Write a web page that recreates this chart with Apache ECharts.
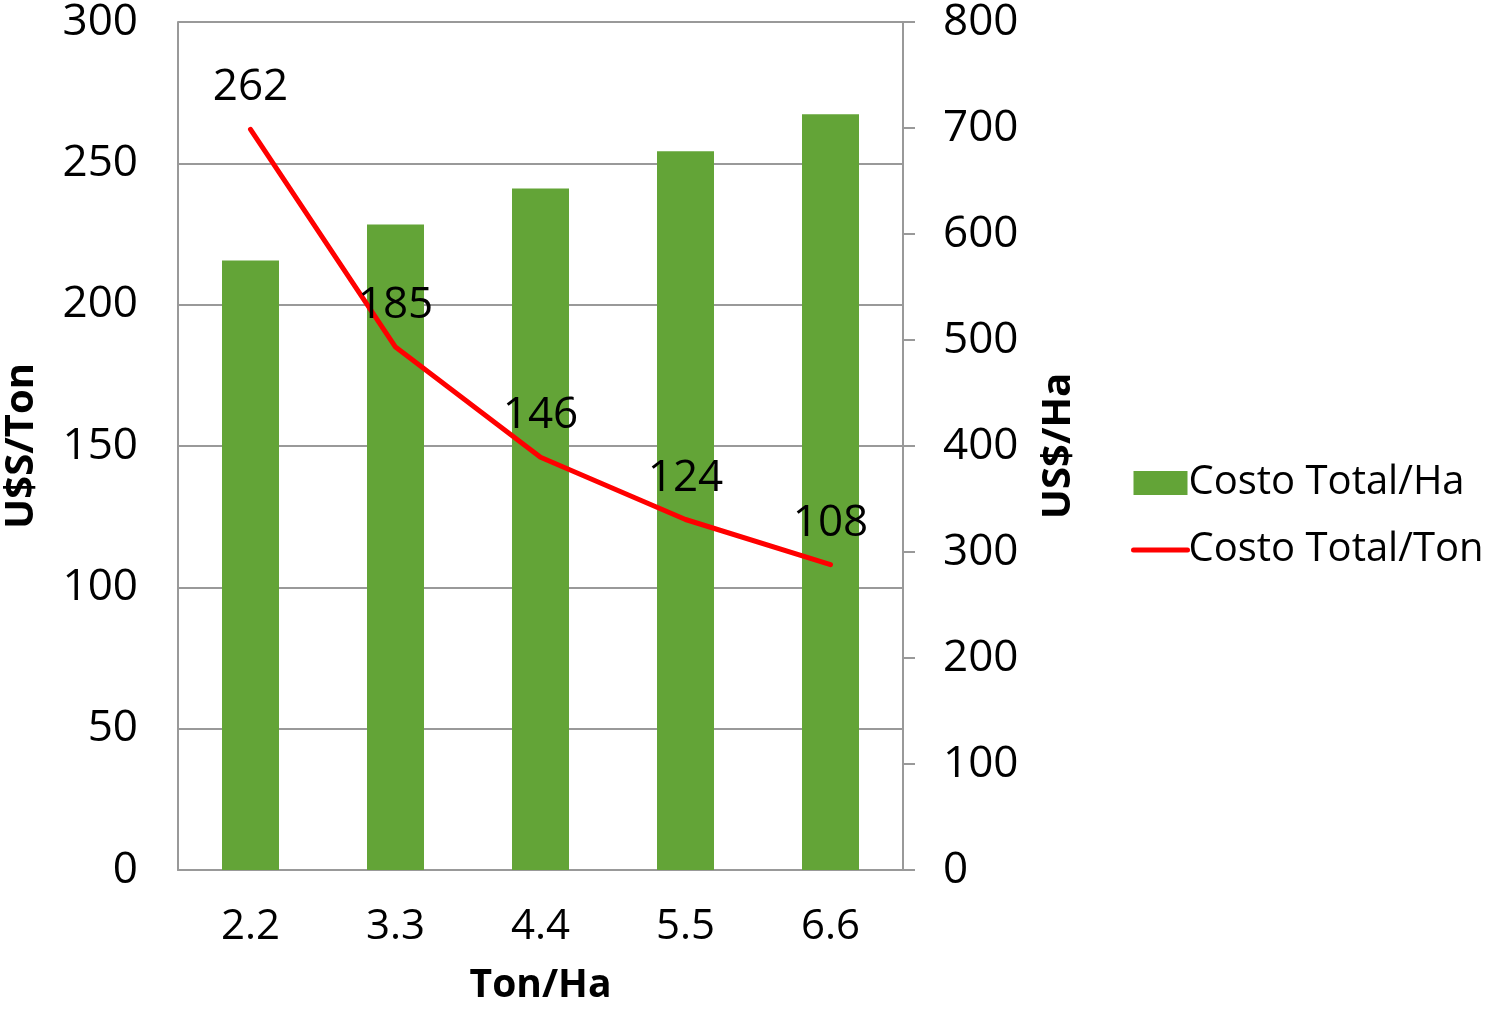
<!DOCTYPE html>
<html>
<head>
<meta charset="utf-8">
<script src="https://cdn.jsdelivr.net/npm/echarts@6/dist/echarts.min.js"></script>
<style>
html,body{margin:0;padding:0;background:#fff;overflow:hidden;}
#chart{width:1489px;height:1010px;}
</style>
</head>
<body>
<div id="chart"></div>
<script>
const categories = ['2.2', '3.3', '4.4', '5.5', '6.6'];
const costoHa = [575, 609, 643, 678, 713];
const costoTon = [262, 185, 146, 124, 108];
const leftTicks = { min: 0, max: 300, interval: 50 };
const rightTicks = { min: 0, max: 800, interval: 100 };

const FONT = '"Open Sans", sans-serif';
const chart = echarts.init(document.getElementById('chart'));
chart.setOption({
  animation: false,
  backgroundColor: '#fff',
  textStyle: { fontFamily: FONT },
  grid: { left: 178, right: 586, top: 20, bottom: 133, containLabel: false },
  legend: {
    orient: 'vertical',
    left: 1126,
    top: 458,
    itemWidth: 54,
    itemHeight: 24,
    itemGap: 27,
    textStyle: { fontSize: 40, color: '#000', fontFamily: FONT, padding: [0, 0, 0, -4] },
    data: [
      { name: 'Costo Total/Ha', icon: 'rect' },
      { name: 'Costo Total/Ton', itemStyle: { opacity: 0 }, lineStyle: { width: 5, color: '#ff0000' } }
    ]
  },
  xAxis: {
    type: 'category',
    data: categories,
    name: 'Ton/Ha',
    nameLocation: 'middle',
    nameGap: 96,
    nameTextStyle: { fontSize: 39, fontWeight: 'bold', color: '#000', fontFamily: FONT },
    axisLine: { show: true, lineStyle: { color: '#999', width: 2 } },
    axisTick: { show: false },
    axisLabel: { fontSize: 42, color: '#000', margin: 36 }
  },
  yAxis: [
    {
      type: 'value',
      position: 'left',
      min: leftTicks.min, max: leftTicks.max, interval: leftTicks.interval,
      name: 'U$S/Ton',
      nameLocation: 'middle',
      nameGap: 136,
      nameRotate: 90,
      nameTextStyle: { fontSize: 40, fontWeight: 'bold', color: '#000', fontFamily: FONT },
      axisLine: { show: true, lineStyle: { color: '#999', width: 2 } },
      axisTick: { show: false },
      axisLabel: { fontSize: 44, color: '#000', margin: 40 },
      splitLine: { show: true, lineStyle: { color: '#999', width: 2 } }
    },
    {
      type: 'value',
      position: 'right',
      min: rightTicks.min, max: rightTicks.max, interval: rightTicks.interval,
      name: 'US$/Ha',
      nameLocation: 'middle',
      nameGap: 136,
      nameRotate: 90,
      nameTextStyle: { fontSize: 40, fontWeight: 'bold', color: '#000', fontFamily: FONT },
      axisLine: { show: true, lineStyle: { color: '#999', width: 2 } },
      axisTick: { show: true, inside: false, length: 12, lineStyle: { color: '#999', width: 2 } },
      axisLabel: { fontSize: 44, color: '#000', margin: 40 },
      splitLine: { show: false }
    }
  ],
  series: [
    {
      name: 'Costo Total/Ha',
      type: 'bar',
      yAxisIndex: 1,
      data: costoHa,
      barWidth: 57,
      itemStyle: { color: '#63a437' }
    },
    {
      name: 'Costo Total/Ton',
      type: 'line',
      yAxisIndex: 0,
      data: costoTon,
      symbol: 'circle',
      symbolSize: 1,
      showSymbol: true,
      lineStyle: { color: '#ff0000', width: 5, cap: 'round' },
      itemStyle: { color: '#ff0000' },
      label: {
        show: true,
        position: 'top',
        distance: 19,
        fontSize: 44,
        color: '#000',
        fontFamily: FONT
      }
    }
  ]
});
</script>
</body>
</html>
